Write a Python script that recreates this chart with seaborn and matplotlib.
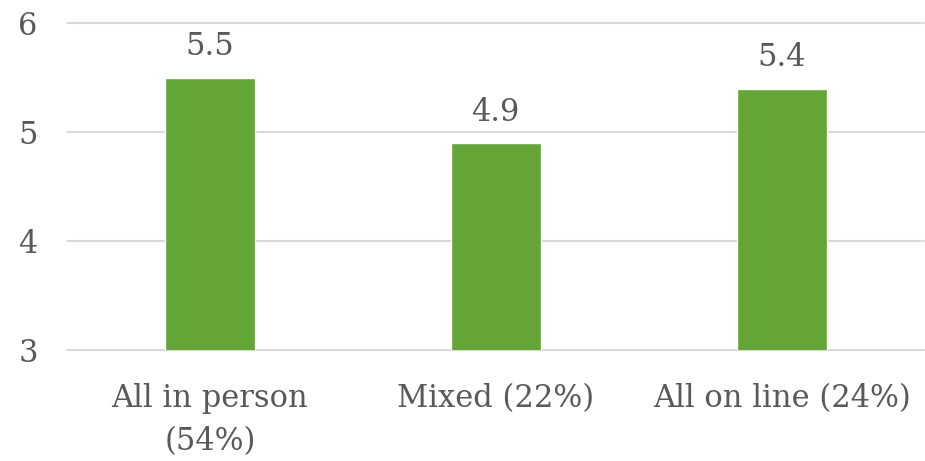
"""
Bar chart of average score by mode of attendance.
"""
import pandas as pd
import seaborn as sns
import matplotlib.pyplot as plt

categories = ['All in person\n(54%)', 'Mixed (22%)', 'All on line (24%)']
scores = [5.5, 4.9, 5.4]
y_ticks = [3, 4, 5, 6]

BAR_COLOR = '#63A537'
TEXT_COLOR = '#595959'
GRID_COLOR = '#D9D9D9'


def plot_bar():
    sns.set_style('white')
    plt.rcParams['font.family'] = ['DejaVu Serif']
    data = pd.DataFrame({'mode': categories, 'score': scores})

    fig = plt.figure(figsize=(9.25, 4.61), dpi=100)
    ax = fig.add_axes([0.0724, 0.2408, 0.927, 0.709])
    sns.barplot(x='mode', y='score', data=data, color=BAR_COLOR,
                width=0.315, saturation=1, ax=ax, zorder=3)

    ax.set_ylim(3, 6)
    ax.set_yticks(y_ticks)
    ax.set_xlim(-0.5, 2.5)
    ax.yaxis.grid(True, color=GRID_COLOR, linewidth=1.5, zorder=0)
    for line in ax.get_ygridlines():
        line.set_clip_on(False)
    for side in ['top', 'right', 'left', 'bottom']:
        ax.spines[side].set_visible(False)
    ax.set_xlabel('')
    ax.set_ylabel('')
    ax.tick_params(axis='both', length=0, labelsize=22, colors=TEXT_COLOR)
    ax.tick_params(axis='y', pad=21)
    ax.tick_params(axis='x', pad=24)
    for label in ax.get_xticklabels():
        label.set_linespacing(1.5)

    # value labels above bars
    for container in ax.containers:
        ax.bar_label(container, fmt='%.1f', padding=11, fontsize=22,
                     color=TEXT_COLOR)

    fig.savefig('out.png', dpi=100)


if __name__ == '__main__':
    plot_bar()
